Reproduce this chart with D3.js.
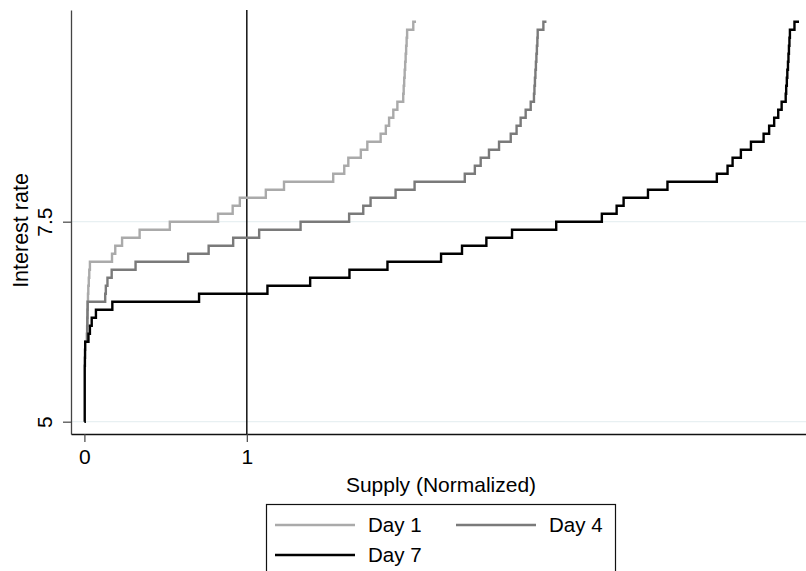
<!DOCTYPE html>
<html lang="en">
<head>
  <meta charset="utf-8" />
  <title>Supply curves by day</title>
  <script src="https://cdn.jsdelivr.net/npm/d3@7/dist/d3.min.js"></script>
  <style>
    body { margin: 0; background: white; }
    text { font-family: "Liberation Sans", Arial, sans-serif; fill: black; }
  </style>
</head>
<body>
<script>
// Cumulative supply (normalized) where each rate level starts; last entry closes the final level
var day1Supply = [0, 0.016, 0.017, 0.018, 0.019, 0.020, 0.022, 0.024, 0.027, 0.030, 0.034,
  0.170, 0.190, 0.232, 0.340, 0.526, 0.823, 0.913, 0.957, 1.117, 1.229, 1.532, 1.600, 1.625,
  1.702, 1.742, 1.824, 1.856, 1.876, 1.902, 1.927, 1.963, 1.966, 1.969, 1.972, 1.975, 1.978,
  1.981, 1.984, 1.987, 2.025, 2.042];
var day1Rate = [6.0, 6.1, 6.2, 6.3, 6.4, 6.5, 6.6, 6.7, 6.8, 6.9, 7.0,
  7.1, 7.2, 7.3, 7.4, 7.5, 7.6, 7.7, 7.8, 7.9, 8.0, 8.1, 8.2, 8.3,
  8.4, 8.5, 8.6, 8.7, 8.8, 8.9, 9.0, 9.1, 9.2, 9.3, 9.4, 9.5, 9.6,
  9.7, 9.8, 9.9, 10.0, 10.0];

var day4Supply = [0, 0.016, 0.017, 0.018, 0.019, 0.020, 0.128, 0.132, 0.142, 0.168, 0.315,
  0.639, 0.765, 0.916, 1.076, 1.331, 1.630, 1.717, 1.762, 1.916, 2.033, 2.342, 2.404, 2.440,
  2.491, 2.553, 2.625, 2.661, 2.686, 2.717, 2.748, 2.768, 2.771, 2.774, 2.777, 2.780, 2.783,
  2.786, 2.789, 2.791, 2.826, 2.845];
var day4Rate = [6.0, 6.1, 6.2, 6.3, 6.4, 6.5, 6.6, 6.7, 6.8, 6.9, 7.0,
  7.1, 7.2, 7.3, 7.4, 7.5, 7.6, 7.7, 7.8, 7.9, 8.0, 8.1, 8.2, 8.3,
  8.4, 8.5, 8.6, 8.7, 8.8, 8.9, 9.0, 9.1, 9.2, 9.3, 9.4, 9.5, 9.6,
  9.7, 9.8, 9.9, 10.0, 10.0];

var day7Supply = [0, 0.002, 0.003, 0.004, 0.005, 0.025, 0.034, 0.045, 0.071, 0.172, 0.706,
  1.127, 1.390, 1.632, 1.866, 2.196, 2.325, 2.475, 2.633, 2.905, 3.186, 3.277, 3.320, 3.470,
  3.590, 3.894, 3.960, 3.991, 4.042, 4.104, 4.182, 4.216, 4.247, 4.272, 4.293, 4.318, 4.321,
  4.325, 4.328, 4.332, 4.335, 4.338, 4.341, 4.344, 4.372, 4.400];
var day7Rate = [5.0, 5.7, 5.8, 5.9, 6.0, 6.1, 6.2, 6.3, 6.4, 6.5, 6.6,
  6.7, 6.8, 6.9, 7.0, 7.1, 7.2, 7.3, 7.4, 7.5, 7.6, 7.7, 7.8, 7.9,
  8.0, 8.1, 8.2, 8.3, 8.4, 8.5, 8.6, 8.7, 8.8, 8.9, 9.0, 9.1, 9.2,
  9.3, 9.4, 9.5, 9.6, 9.7, 9.8, 9.9, 10.0, 10.0];

var seriesNames = ["Day 1", "Day 4", "Day 7"];
var xTicks = [0, 1];
var yTicks = [5, 7.5];
var refSupply = 1;

var width = 806, height = 571;
var plot = { left: 71, right: 806, top: 10, bottom: 434 };
var colors = ["#aaaaaa", "#7a7a7a", "#000000"];

var svg = d3.select("body").append("svg")
    .attr("width", width)
    .attr("height", height);

var x = d3.scaleLinear().domain([-0.0825, 4.443]).range([plot.left, plot.right]);
var y = d3.scaleLinear().domain([4.846, 10.146]).range([plot.bottom, plot.top]);

// gridlines
svg.append("g").selectAll("line")
  .data(yTicks)
  .enter().append("line")
    .attr("x1", plot.left).attr("x2", plot.right)
    .attr("y1", d => y(d)).attr("y2", d => y(d))
    .attr("stroke", "#e8f0f2")
    .attr("stroke-width", 1.3);

// reference line at supply = 1
svg.append("line")
  .attr("x1", x(refSupply)).attr("x2", x(refSupply))
  .attr("y1", plot.top).attr("y2", plot.bottom)
  .attr("stroke", "#111")
  .attr("stroke-width", 1.5);

// supply curves
var series = [
  { name: seriesNames[0], supply: day1Supply, rate: day1Rate },
  { name: seriesNames[1], supply: day4Supply, rate: day4Rate },
  { name: seriesNames[2], supply: day7Supply, rate: day7Rate }
];

var line = d3.line()
    .x(d => x(d[0]))
    .y(d => y(d[1]))
    .curve(d3.curveStepAfter);

svg.append("g").selectAll("path")
  .data(series)
  .enter().append("path")
    .attr("d", d => line(d.supply.map((s, i) => [s, d.rate[i]])))
    .attr("fill", "none")
    .attr("stroke", (d, i) => colors[i])
    .attr("stroke-width", 2.4)
    .attr("stroke-linejoin", "miter");

// axes
var yAxis = svg.append("g")
    .attr("transform", "translate(" + plot.left + ",0)")
    .call(d3.axisLeft(y).tickValues(yTicks).tickSize(8).tickSizeOuter(0).tickFormat(d3.format("")));
yAxis.select(".domain").attr("stroke", "#444").attr("stroke-width", 1.3);
yAxis.selectAll(".tick line").attr("stroke", "#444").attr("stroke-width", 1.2);
yAxis.selectAll(".tick text")
    .attr("x", null).attr("dy", null)
    .attr("transform", "translate(-19.5,0) rotate(-90)")
    .attr("text-anchor", "middle")
    .style("font-size", "21px")
    .style("font-family", "Liberation Sans, Arial, sans-serif");

var xAxis = svg.append("g")
    .attr("transform", "translate(0," + plot.bottom + ")")
    .call(d3.axisBottom(x).tickValues(xTicks).tickSize(8).tickSizeOuter(0).tickFormat(d3.format("d")));
xAxis.select(".domain").attr("stroke", "#111").attr("stroke-width", 1.5);
xAxis.selectAll(".tick line").attr("stroke", "#444").attr("stroke-width", 1.2);
xAxis.selectAll(".tick text")
    .attr("y", 29.5).attr("dy", null)
    .style("font-size", "21px")
    .style("font-family", "Liberation Sans, Arial, sans-serif");

// axis titles
svg.append("text")
  .attr("transform", "translate(28.3,230.5) rotate(-90)")
  .attr("text-anchor", "middle")
  .style("font-size", "21.5px")
  .text("Interest rate");

svg.append("text")
  .attr("x", 441).attr("y", 491.7)
  .attr("text-anchor", "middle")
  .style("font-size", "21px")
  .text("Supply (Normalized)");

// legend
var legend = svg.append("g");
legend.append("rect")
  .attr("x", 266.5).attr("y", 504.5)
  .attr("width", 349).attr("height", 100)
  .attr("fill", "white")
  .attr("stroke", "#111")
  .attr("stroke-width", 1.2);

var legendPos = [[275, 525], [456, 525], [275, 555]];
var items = legend.selectAll(".item")
  .data(series)
  .enter().append("g")
    .attr("class", "item")
    .attr("transform", (d, i) => "translate(" + legendPos[i][0] + "," + legendPos[i][1] + ")");
items.append("line")
  .attr("x1", 0).attr("x2", 80)
  .attr("stroke", (d, i) => colors[i])
  .attr("stroke-width", 2.6);
items.append("text")
  .attr("x", 93).attr("y", 6.7)
  .style("font-size", "20.5px")
  .text(d => d.name);
</script>
</body>
</html>
